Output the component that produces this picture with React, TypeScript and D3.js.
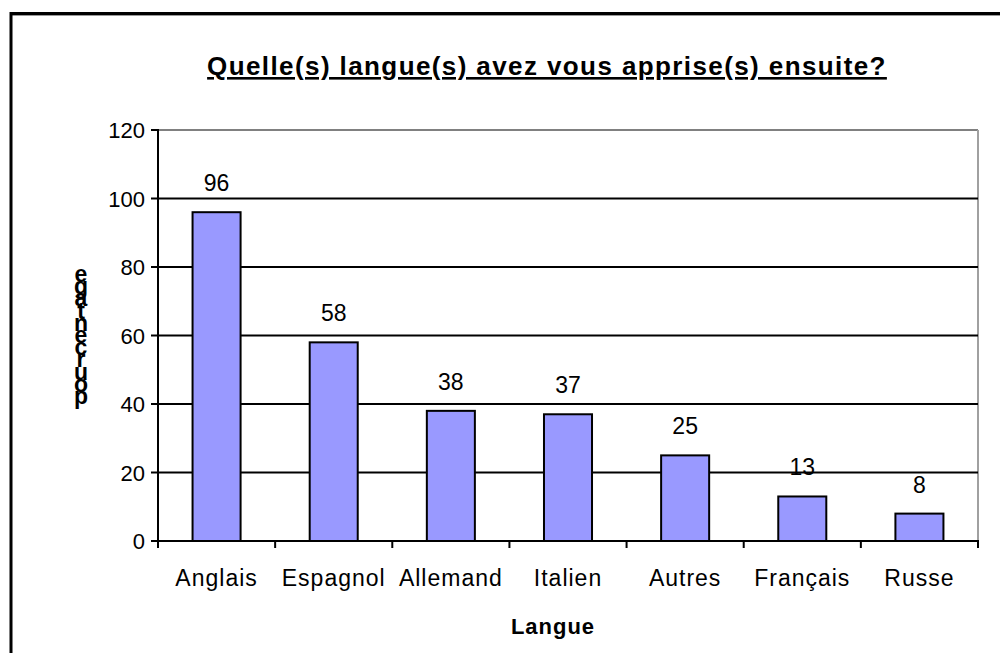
import * as d3 from 'd3';

const categories = ['Anglais', 'Espagnol', 'Allemand', 'Italien', 'Autres', 'Français', 'Russe'];
const values = [96, 58, 38, 37, 25, 13, 8];
const yTicks = [0, 20, 40, 60, 80, 100, 120];
const yLabel = 'pourcentage';

const W = 1000;
const H = 653;
const plot = { left: 158, right: 978, top: 130, bottom: 541 };
const font = 'Liberation Sans, Arial, sans-serif';

const App = () => {
  const x = d3.scaleBand<string>()
    .domain(categories)
    .range([plot.left, plot.right])
    .paddingInner(0.59)
    .paddingOuter(0.295);
  const band = d3.scaleBand<string>().domain(categories).range([plot.left, plot.right]);
  const y = d3.scaleLinear().domain([0, 120]).range([plot.bottom, plot.top]);

  return (
    <svg width={W} height={H} style={{ position: 'absolute', left: 0, top: 0 }}>
      <rect x={0} y={0} width={W} height={H} fill="#fff" />
      {/* outer frame */}
      <line x1={10} y1={15.5} x2={W} y2={15.5} stroke="#999" strokeWidth={1} />
      <line x1={10} y1={13.5} x2={W} y2={13.5} stroke="#000" strokeWidth={3} />
      <line x1={11} y1={12} x2={11} y2={H} stroke="#000" strokeWidth={3} />

      <text x={547} y={75} textAnchor="middle" fontFamily={font} fontWeight="bold"
        fontSize={26} letterSpacing={1.4} textDecoration="underline">
        Quelle(s) langue(s) avez vous apprise(s) ensuite?
      </text>

      {/* plot frame */}
      <line x1={plot.left} y1={plot.top} x2={plot.right} y2={plot.top} stroke="#808080" strokeWidth={2} />
      <line x1={plot.right} y1={plot.top} x2={plot.right} y2={plot.bottom} stroke="#a0a0a0" strokeWidth={2} />

      {yTicks.filter(t => t > 0 && t < 120).map(t => (
        <line key={t} x1={plot.left} x2={plot.right} y1={y(t)} y2={y(t)} stroke="#000" strokeWidth={2} />
      ))}

      {categories.map((c, i) => (
        <g key={c}>
          <rect x={x(c)} y={y(values[i])} width={x.bandwidth()} height={y(0) - y(values[i])}
            fill="#9999ff" stroke="#000" strokeWidth={2} />
          <text x={x(c)! + x.bandwidth() / 2} y={y(values[i]) - 21} textAnchor="middle"
            fontFamily={font} fontSize={23}>{values[i]}</text>
          <text x={band(c)! + band.bandwidth() / 2} y={586} textAnchor="middle"
            fontFamily={font} fontSize={23} letterSpacing={1}>{c}</text>
        </g>
      ))}

      {/* y axis */}
      <line x1={plot.left} y1={plot.top - 1} x2={plot.left} y2={plot.bottom + 1} stroke="#000" strokeWidth={2} />
      {yTicks.map(t => (
        <g key={t}>
          <line x1={plot.left - 7} x2={plot.left} y1={y(t)} y2={y(t)} stroke="#000" strokeWidth={2} />
          <text x={145} y={y(t) + 8} textAnchor="end" fontFamily={font} fontSize={22}>{t}</text>
        </g>
      ))}

      {/* x axis */}
      <line x1={plot.left - 7} x2={plot.right + 1} y1={plot.bottom} y2={plot.bottom} stroke="#000" strokeWidth={2} />
      {[...categories.map(c => band(c)!), plot.right].map((v, i) => (
        <line key={i} x1={v} x2={v} y1={plot.bottom} y2={plot.bottom + 7} stroke="#000" strokeWidth={2} />
      ))}

      <text x={553} y={634} textAnchor="middle" fontFamily={font} fontWeight="bold"
        fontSize={22} letterSpacing={1}>Langue</text>

      {/* stacked y label, letters piled bottom to top */}
      <text fontFamily={font} fontWeight="bold" fontSize={23} textAnchor="middle">
        {yLabel.split('').map((ch, i) => (
          <tspan key={i} x={81} y={404 - i * 12.2}>{ch}</tspan>
        ))}
      </text>
    </svg>
  );
};

export default App;
